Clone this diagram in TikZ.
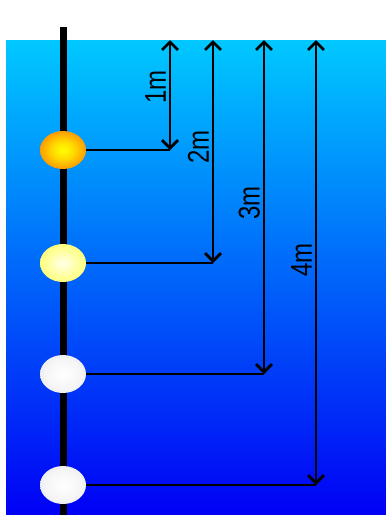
\documentclass[tikz,border=0pt]{standalone}
\usepackage{fontspec}
\setmainfont{Liberation Sans}
\usetikzlibrary{arrows.meta,shapes.geometric}
\definecolor{seatop}{RGB}{0,200,255}
\definecolor{seabot}{RGB}{0,0,245}
\pgfdeclareradialshading{buoyorange}{\pgfpoint{0bp}{0bp}}{color(0bp)=(yellow); color(12bp)=(yellow!70!orange); color(38bp)=(orange!75!red); color(50bp)=(orange!75!red)}
\pgfdeclareradialshading{buoyyellow}{\pgfpoint{0bp}{0bp}}{color(0bp)=(yellow!8!white); color(15bp)=(yellow!35!white); color(40bp)=(yellow!75!white); color(50bp)=(yellow!75!white)}
\pgfdeclareradialshading{buoywhite}{\pgfpoint{0bp}{0bp}}{color(0bp)=(white); color(20bp)=(white!96!black); color(45bp)=(white!82!black); color(50bp)=(white!82!black)}
\tikzset{
  buoy/.style={ellipse, minimum width=46pt, minimum height=38pt, inner sep=0pt},
  depth/.style={line width=2.8pt, {Straight Barb[length=8pt,width=16pt]}-{Straight Barb[length=8pt,width=16pt]}},
  lbl/.style={rotate=90, anchor=south, inner sep=0pt, font=\fontsize{30}{30}\selectfont}
}

\begin{document}
\begin{tikzpicture}[x=1pt,y=-1pt]
			\useasboundingbox (0,0) rectangle (386,515);
			\shade [top color=seatop, bottom color=seabot] (6,40) rectangle (386,515);
			\draw [line width=7pt] (63,27) -- (63,515);
			
			\node [buoy, shading=buoyorange] (b1) at (63,150) {};
			\node [buoy, shading=buoyyellow] (b2) at (63,263) {};
			\node [buoy, shading=buoywhite] (b3) at (63,374) {};
			\node [buoy, shading=buoywhite] (b4) at (63,485) {};
			
			\foreach \i/\x/\y/\ly in {1/170/150/87, 2/213/263/147, 3/264/374/203, 4/316/485/260} {
				\coordinate (t\i) at (\x,40); \coordinate (d\i) at (\x,\y);
				\draw [depth] (t\i) -- (d\i);
				\draw [line width=2.8pt] (b\i) -- (d\i);
				\node [lbl] (m\i) at (\x-4,\ly) {\scalebox{.8}[1]{\i m}};
			}
			\end{tikzpicture}
\end{document}
